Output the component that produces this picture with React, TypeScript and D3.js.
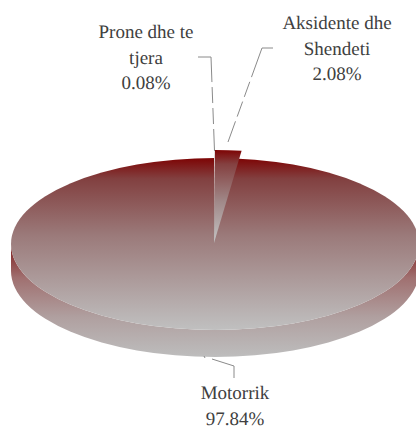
import React from "react";
import * as d3 from "d3";

const categories = ["Prone dhe te tjera", "Aksidente dhe Shendeti", "Motorrik"];
const shares = [0.08, 2.08, 97.84];
const labelLines = [["Prone dhe te", "tjera", "0.08%"], ["Aksidente dhe", "Shendeti", "2.08%"], ["Motorrik", "97.84%"]];
const labelCenters = [[146, 38], [337, 29], [235, 399]];
const leaders = [
  [[214.5, 151], [211, 57], [198, 57]],
  [[228, 142], [262, 48], [273, 48]],
  [[204, 356], [205, 358]],
  [[212, 359], [234, 366], [234, 378]],
];

const CX = 215, CY = 244, RX = 204, RY = 86, DEPTH = 27;
const WEDGE_RY = 93;
const ratio = RY / RX;

export default function App() {
  const pie = d3.pie<number>().sort(null).value((d) => d);
  const arcs = pie(shares);
  const arc = d3.arc<d3.PieArcDatum<number>>().innerRadius(0).outerRadius(RX);
  const line = d3.line();
  const sideX = d3.scaleLinear().domain([-1, 1]).range([CX - RX, CX + RX]);
  const side = `M${sideX(-1)},${CY} A${RX},${RY} 0 0 0 ${sideX(1)},${CY} L${sideX(1)},${CY + DEPTH} A${RX},${RY} 0 0 1 ${sideX(-1)},${CY + DEPTH} Z`;
  const whole = { ...arcs[2], startAngle: 0, endAngle: 2 * Math.PI };
  return (
    <svg width={416} height={429} style={{ position: "absolute", left: 0, top: 0 }} fontFamily="'Liberation Serif', 'Times New Roman', serif" textRendering="geometricPrecision">
      <defs>
        <linearGradient id="top" x1="0" y1="0" x2="0" y2="1">
          <stop offset="0" stopColor="#7d0404" />
          <stop offset="0.12" stopColor="#824040" />
          <stop offset="0.45" stopColor="#9b7a7a" />
          <stop offset="1" stopColor="#c0c0c0" />
        </linearGradient>
        <linearGradient id="wedge" x1="0" y1="0" x2="0" y2="1">
          <stop offset="0" stopColor="#7d0404" />
          <stop offset="0.15" stopColor="#844040" />
          <stop offset="0.55" stopColor="#a08888" />
          <stop offset="1" stopColor="#c4c4c4" />
        </linearGradient>
        <linearGradient id="side" x1="0" y1="0" x2="0" y2="1">
          <stop offset="0" stopColor="#7d1a1a" />
          <stop offset="0.3" stopColor="#a07070" />
          <stop offset="0.65" stopColor="#b0a0a0" />
          <stop offset="1" stopColor="#bdbdbd" />
        </linearGradient>
      </defs>
      <path d={side} fill="url(#side)" />
      <g transform={`translate(${CX},${CY}) scale(1,${ratio})`}>
        <path d={arc(whole) ?? ""} fill="url(#top)" />
      </g>
      <g transform={`translate(${CX - 1},${CY - 1}) scale(1,${WEDGE_RY / RX})`}>
        {arcs.slice(0, 2).map((a, i) => (
          <path key={categories[i]} d={arc(a) ?? ""} fill={i === 0 ? "#e4e0e0" : "url(#wedge)"} stroke="none" />
        ))}
      </g>
      {leaders.map((pts, i) => (
        <path key={i} d={line(pts as [number, number][]) ?? ""} fill="none" stroke="#8a8a8a" strokeWidth={1}
          strokeDasharray={i < 2 ? "22 5 16 5 16 5 200" : undefined} />
      ))}
      {labelLines.map((lines, i) => (
        <text key={i} textAnchor="middle" fontSize={19} fill="#404040">
          {lines.map((t, j) => (
            <tspan key={j} x={labelCenters[i][0]} y={labelCenters[i][1] + j * 25.5}>{t}</tspan>
          ))}
        </text>
      ))}
    </svg>
  );
}
